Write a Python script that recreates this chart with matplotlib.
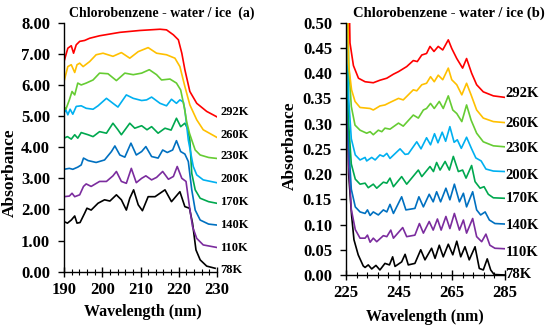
import matplotlib
matplotlib.use("Agg")
import matplotlib.pyplot as plt
from matplotlib.ticker import MultipleLocator, FixedLocator, FormatStrFormatter

plt.rcParams['font.family'] = ['Liberation Serif', 'DejaVu Serif']
plt.rcParams['font.weight'] = 'bold'

temps = ['292K', '260K', '230K', '200K', '170K', '140K', '110K', '78K']
colors = ['#FF0000', '#FFC000', '#66CC33', '#00B0F0', '#00A84F', '#0070C0', '#7B2C9E', '#000000']

# ---- panel (a): 190-230 nm ----
a292_x = [190.0, 191.0, 191.9, 192.5, 193.2, 194.1, 195.4, 196.7, 199.3, 204.6, 209.8, 215.1, 216.8, 218.6, 219.9, 220.8, 221.6, 222.9, 224.7, 227.3, 229.9]
a292_y = [6.75, 7.18, 7.26, 7.02, 7.29, 7.40, 7.43, 7.50, 7.58, 7.69, 7.75, 7.79, 7.77, 7.61, 7.45, 7.02, 6.49, 5.79, 5.41, 5.15, 4.98]
a260_x = [190.0, 191.0, 191.9, 192.8, 193.4, 194.1, 195.0, 196.7, 198.4, 200.2, 202.8, 205.0, 207.2, 209.4, 212.0, 214.2, 216.8, 219.0, 220.3, 221.6, 222.9, 224.7, 226.4, 229.9]
a260_y = [6.11, 6.59, 6.65, 6.40, 6.65, 6.70, 6.59, 6.75, 6.97, 7.02, 6.92, 7.04, 6.86, 7.07, 7.20, 7.02, 6.97, 6.86, 6.59, 5.95, 5.36, 4.88, 4.56, 4.32]
a230_x = [190.0, 190.5, 191.4, 192.1, 192.8, 193.6, 194.5, 195.8, 197.6, 199.3, 201.5, 203.7, 205.9, 208.1, 210.3, 212.3, 214.2, 215.5, 217.7, 219.4, 220.5, 221.4, 222.1, 222.8, 223.4, 224.3, 225.6, 227.8, 229.9]
a230_y = [5.30, 5.22, 5.52, 5.79, 5.68, 6.06, 6.00, 6.06, 6.16, 6.38, 6.36, 6.14, 6.38, 6.33, 6.38, 6.49, 6.33, 6.16, 6.19, 6.06, 5.84, 5.31, 4.80, 4.45, 4.23, 3.91, 3.75, 3.67, 3.64]
a200_x = [190.0, 190.5, 191.0, 191.6, 192.3, 193.2, 194.5, 195.8, 197.6, 198.9, 201.1, 202.8, 204.1, 206.3, 208.1, 210.3, 211.6, 212.9, 215.1, 216.8, 218.1, 219.4, 220.3, 221.2, 221.6, 222.5, 223.8, 224.7, 226.4, 229.9]
a200_y = [5.10, 5.20, 5.04, 5.22, 5.06, 5.31, 5.33, 5.25, 5.22, 5.33, 5.57, 5.41, 5.29, 5.68, 5.57, 5.50, 5.52, 5.61, 5.41, 5.33, 5.54, 5.41, 5.52, 5.45, 5.20, 4.23, 3.38, 3.11, 2.95, 2.86]
a170_x = [190.0, 190.9, 191.9, 192.8, 193.6, 194.5, 196.3, 197.6, 199.3, 201.1, 202.8, 204.1, 205.0, 207.2, 208.5, 210.3, 211.7, 212.9, 214.6, 216.4, 218.0, 219.4, 220.5, 221.6, 222.3, 222.9, 223.4, 224.3, 225.6, 227.8, 229.9]
a170_y = [4.29, 4.34, 4.26, 4.40, 4.29, 4.47, 4.40, 4.34, 4.50, 4.45, 4.77, 4.56, 4.40, 4.77, 4.61, 4.69, 4.56, 4.66, 4.45, 4.61, 4.55, 4.93, 4.66, 4.77, 4.60, 4.23, 3.16, 2.63, 2.36, 2.25, 2.20]
a140_x = [190.0, 191.4, 192.3, 193.6, 194.5, 195.1, 196.3, 198.4, 200.6, 202.4, 203.3, 204.6, 205.9, 207.5, 208.9, 210.3, 211.4, 212.9, 214.6, 215.8, 217.0, 218.4, 219.4, 220.5, 221.6, 222.5, 223.4, 224.3, 225.6, 227.8, 229.9]
a140_y = [3.29, 3.32, 3.29, 3.36, 3.43, 3.65, 3.57, 3.51, 3.59, 3.86, 4.04, 3.75, 3.68, 4.13, 3.75, 3.86, 4.02, 3.70, 3.65, 3.91, 3.83, 3.91, 4.21, 3.86, 3.78, 3.54, 2.63, 1.98, 1.66, 1.53, 1.50]
a110_x = [190.0, 191.4, 192.1, 192.8, 194.1, 195.1, 195.8, 197.1, 199.3, 201.1, 202.8, 203.7, 205.0, 206.3, 207.6, 208.9, 210.3, 211.4, 212.9, 214.2, 215.8, 217.3, 218.6, 219.6, 220.8, 221.9, 222.8, 223.6, 224.7, 226.4, 229.9]
a110_y = [2.41, 2.43, 2.52, 2.41, 2.47, 2.74, 2.82, 2.74, 2.90, 2.90, 3.08, 3.22, 2.90, 2.84, 3.32, 2.86, 3.00, 3.08, 2.95, 3.03, 3.22, 2.97, 3.06, 3.38, 3.00, 2.90, 2.09, 1.45, 1.07, 0.86, 0.78]
a78_x = [190.0, 190.9, 191.9, 192.8, 193.4, 194.2, 195.4, 196.0, 197.1, 198.9, 200.6, 202.0, 203.7, 205.0, 206.3, 207.2, 208.2, 209.4, 210.5, 212.0, 213.8, 215.1, 216.4, 218.1, 220.3, 221.6, 222.8, 223.6, 224.5, 225.6, 227.3, 229.5]
a78_y = [1.61, 1.56, 1.66, 1.79, 1.56, 1.58, 1.88, 2.04, 1.98, 2.20, 2.31, 2.27, 2.47, 2.31, 1.98, 2.36, 2.63, 2.15, 1.96, 2.41, 2.41, 2.52, 2.63, 2.25, 2.57, 2.09, 2.04, 1.56, 0.70, 0.38, 0.18, 0.11]
a_label_y = [5.13, 4.39, 3.72, 2.98, 2.25, 1.51, 0.76, 0.05]

# ---- panel (b): 225-285 nm ----
b292_x = [226.3, 226.5, 227.8, 229.7, 232.2, 235.3, 237.8, 240.4, 242.9, 244.8, 247.9, 250.4, 251.9, 253.6, 255.4, 256.7, 258.2, 259.8, 261.5, 263.6, 264.9, 266.8, 269.0, 270.5, 272.4, 274.3, 276.8, 280.6, 285.0]
b292_y = [0.52, 0.46, 0.415, 0.390, 0.383, 0.381, 0.386, 0.390, 0.398, 0.403, 0.413, 0.425, 0.423, 0.436, 0.439, 0.453, 0.443, 0.453, 0.446, 0.466, 0.449, 0.429, 0.410, 0.429, 0.400, 0.377, 0.363, 0.355, 0.352]
b260_x = [225.8, 225.9, 227.1, 228.4, 230.3, 234.1, 235.3, 237.8, 239.7, 241.6, 244.8, 246.6, 250.4, 251.7, 253.6, 255.4, 256.9, 258.3, 259.8, 261.5, 263.6, 264.9, 266.8, 268.7, 270.5, 272.2, 274.3, 276.8, 280.6, 285.0]
b260_y = [0.52, 0.420, 0.367, 0.344, 0.332, 0.330, 0.327, 0.335, 0.337, 0.342, 0.350, 0.347, 0.367, 0.365, 0.377, 0.380, 0.393, 0.383, 0.396, 0.387, 0.410, 0.387, 0.377, 0.357, 0.380, 0.357, 0.327, 0.311, 0.304, 0.302]
b230_x = [225.6, 226.1, 227.0, 228.4, 230.3, 232.8, 234.1, 235.3, 237.2, 238.5, 239.7, 241.6, 244.8, 246.6, 250.4, 252.3, 254.2, 255.4, 256.9, 258.3, 260.2, 261.7, 263.6, 265.3, 266.8, 268.7, 270.5, 272.2, 274.3, 276.8, 280.6, 285.0]
b230_y = [0.52, 0.41, 0.334, 0.297, 0.287, 0.281, 0.284, 0.278, 0.287, 0.284, 0.291, 0.289, 0.301, 0.295, 0.317, 0.311, 0.327, 0.330, 0.340, 0.330, 0.344, 0.330, 0.355, 0.327, 0.320, 0.304, 0.337, 0.307, 0.281, 0.264, 0.256, 0.254]
b200_x = [225.4, 226.0, 227.0, 228.5, 230.3, 232.2, 232.8, 234.7, 236.0, 237.8, 239.1, 240.4, 241.6, 245.4, 247.3, 248.5, 251.7, 253.3, 255.4, 256.9, 258.4, 259.7, 261.3, 262.6, 264.2, 265.8, 267.0, 268.5, 270.5, 272.4, 274.0, 276.0, 277.8, 280.6, 285.0]
b200_y = [0.52, 0.35, 0.27, 0.238, 0.228, 0.233, 0.226, 0.233, 0.228, 0.238, 0.235, 0.241, 0.231, 0.250, 0.239, 0.240, 0.264, 0.250, 0.272, 0.258, 0.280, 0.262, 0.283, 0.265, 0.294, 0.263, 0.268, 0.251, 0.273, 0.250, 0.232, 0.226, 0.210, 0.206, 0.205]
b170_x = [225.3, 226.0, 227.0, 228.5, 230.3, 232.2, 233.4, 235.3, 236.6, 239.1, 240.4, 241.6, 242.9, 246.0, 247.9, 252.3, 253.6, 256.7, 258.0, 259.2, 260.5, 262.4, 264.0, 265.5, 267.4, 269.0, 270.3, 272.4, 273.7, 275.6, 277.1, 278.7, 280.6, 285.0]
b170_y = [0.52, 0.30, 0.22, 0.19, 0.180, 0.182, 0.173, 0.180, 0.172, 0.184, 0.182, 0.192, 0.175, 0.195, 0.180, 0.208, 0.195, 0.215, 0.205, 0.223, 0.208, 0.225, 0.208, 0.235, 0.205, 0.208, 0.192, 0.217, 0.185, 0.172, 0.175, 0.160, 0.153, 0.152]
b140_x = [225.2, 226.0, 227.0, 228.5, 230.3, 232.2, 233.1, 234.1, 235.3, 237.2, 239.1, 240.4, 241.6, 242.9, 246.0, 247.6, 251.0, 252.5, 254.2, 256.4, 257.9, 259.2, 260.7, 262.7, 264.2, 265.9, 267.8, 269.3, 270.5, 272.8, 274.3, 275.8, 277.5, 279.1, 281.2, 285.0]
b140_y = [0.52, 0.26, 0.17, 0.135, 0.125, 0.122, 0.129, 0.118, 0.125, 0.119, 0.129, 0.125, 0.140, 0.122, 0.155, 0.129, 0.132, 0.155, 0.135, 0.160, 0.145, 0.165, 0.145, 0.172, 0.149, 0.180, 0.145, 0.162, 0.135, 0.165, 0.129, 0.119, 0.125, 0.109, 0.102, 0.101]
b110_x = [225.1, 226.0, 227.0, 228.5, 230.3, 232.2, 233.1, 234.1, 235.3, 236.6, 239.1, 240.4, 241.9, 242.9, 246.4, 247.9, 251.0, 252.7, 254.2, 256.4, 257.9, 259.5, 260.9, 262.7, 264.2, 265.9, 267.8, 269.3, 270.5, 272.8, 274.3, 276.2, 277.8, 279.3, 281.2, 285.0]
b110_y = [0.52, 0.22, 0.13, 0.09, 0.073, 0.073, 0.079, 0.065, 0.073, 0.066, 0.078, 0.076, 0.089, 0.073, 0.094, 0.076, 0.079, 0.102, 0.083, 0.106, 0.089, 0.111, 0.089, 0.116, 0.092, 0.122, 0.089, 0.109, 0.083, 0.112, 0.076, 0.066, 0.081, 0.059, 0.053, 0.052]
b78_x = [225.0, 226.0, 227.1, 228.0, 229.6, 231.5, 232.2, 233.4, 234.7, 236.3, 237.8, 239.7, 241.4, 242.6, 243.5, 246.0, 247.3, 248.5, 251.0, 253.2, 254.8, 257.3, 258.6, 260.2, 261.7, 263.6, 265.3, 266.8, 268.3, 269.9, 271.5, 273.7, 275.3, 276.8, 278.3, 279.6, 280.9, 285.0]
b78_y = [0.52, 0.20, 0.119, 0.070, 0.040, 0.018, 0.015, 0.020, 0.012, 0.019, 0.010, 0.023, 0.020, 0.036, 0.017, 0.026, 0.041, 0.020, 0.023, 0.050, 0.030, 0.053, 0.033, 0.059, 0.036, 0.061, 0.040, 0.067, 0.036, 0.056, 0.030, 0.056, 0.013, 0.010, 0.032, 0.010, 0.001, 0.0]
b_label_y = [0.359, 0.301, 0.250, 0.198, 0.151, 0.099, 0.044, 0.0]

a_series = [(a292_x, a292_y), (a260_x, a260_y), (a230_x, a230_y), (a200_x, a200_y),
            (a170_x, a170_y), (a140_x, a140_y), (a110_x, a110_y), (a78_x, a78_y)]
b_series = [(b292_x, b292_y), (b260_x, b260_y), (b230_x, b230_y), (b200_x, b200_y),
            (b170_x, b170_y), (b140_x, b140_y), (b110_x, b110_y), (b78_x, b78_y)]

fig = plt.figure(figsize=(5.5, 3.3), dpi=100)
ax1 = fig.add_axes([64/550, 1-271.7/330, 153/550, 249/330])
ax2 = fig.add_axes([346/550, 1-275/330, 159/550, 252.3/330])

# bottom curve first so the upper ones sit on top
for (x, y), c in reversed(list(zip(a_series, colors))):
    ax1.plot(x, y, color=c, lw=1.2, solid_joinstyle='round')
for (x, y), c in reversed(list(zip(b_series, colors))):
    ax2.plot(x, y, color=c, lw=1.2, solid_joinstyle='round')

for t, y in zip(temps, a_label_y):
    ax1.text(230.8, y, t, fontsize=9, fontweight='bold', va='center', ha='left')
for t, y in zip(temps, b_label_y):
    ax2.text(285.2, y, t, fontsize=10.5, fontweight='bold', va='center', ha='left')

ax1.set_xlim(190, 230)
ax1.set_ylim(0, 8)
ax1.xaxis.set_major_locator(MultipleLocator(10))
ax1.xaxis.set_minor_locator(MultipleLocator(2))
ax1.yaxis.set_major_locator(MultipleLocator(1))
ax1.yaxis.set_major_formatter(FormatStrFormatter('%.2f'))

ax2.set_xlim(225, 285)
ax2.set_ylim(0, 0.5)
ax2.xaxis.set_major_locator(FixedLocator([225, 245, 265, 285]))
ax2.xaxis.set_minor_locator(FixedLocator(list(range(225, 286, 4))))
ax2.yaxis.set_major_locator(MultipleLocator(0.05))
ax2.yaxis.set_major_formatter(FormatStrFormatter('%.2f'))

for ax in (ax1, ax2):
    for s in ('top', 'right'):
        ax.spines[s].set_visible(False)
    ax.spines['left'].set_linewidth(1.0)
    ax.spines['bottom'].set_linewidth(1.0)
    ax.tick_params(axis='y', direction='out', length=4, width=1, labelsize=12, pad=6)
    ax.tick_params(axis='x', which='major', direction='inout', length=7, width=1, labelsize=12, pad=4)
    ax.tick_params(axis='x', which='minor', direction='inout', length=5, width=0.8)

# axis titles placed in figure pixels
fig.text(10/550, 1-173/330, 'Absorbance', rotation=90, fontsize=12.5, fontweight='bold', ha='center', va='center')
fig.text(290/550, 1-146/330, 'Absorbance', rotation=90, fontsize=12.5, fontweight='bold', ha='center', va='center')
fig.text(143/550, 1-312/330, 'Wavelength (nm)', fontsize=11.5, fontweight='bold', ha='center', va='center')
fig.text(425/550, 1-317/330, 'Wavelength (nm)', fontsize=11.5, fontweight='bold', ha='center', va='center')

fig.text(162/550, 1-13/330, 'Chlorobenzene - water / ice  (a)', fontsize=10, fontweight='bold', ha='center', va='center')
fig.text(449/550, 1-13/330, 'Chlorobenzene - water / ice (b)', fontsize=10.5, fontweight='bold', ha='center', va='center')

fig.savefig('out.png', dpi=100)
